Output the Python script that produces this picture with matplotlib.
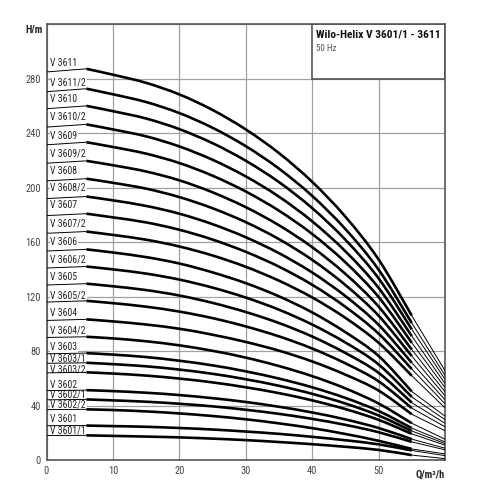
import matplotlib
matplotlib.use("Agg")
import matplotlib.pyplot as plt
import matplotlib.font_manager as fm
from matplotlib.font_manager import FontProperties
from matplotlib.patches import Rectangle, PathPatch
from matplotlib.path import Path

# Flow values (m3/h) at which heads were read
flow = [0, 6, 10, 15, 20, 25, 30, 35, 40, 45, 50, 55, 60]

names = ["V 3611", "V 3611/2", "V 3610", "V 3610/2", "V 3609", "V 3609/2",
         "V 3608", "V 3608/2", "V 3607", "V 3607/2", "V 3606", "V 3606/2",
         "V 3605", "V 3605/2", "V 3604", "V 3604/2", "V 3603", "V 3603/1",
         "V 3603/2", "V 3602", "V 3602/1", "V 3602/2", "V 3601", "V 3601/1"]

h_3611   = [285, 287.3, 283.0, 277.0, 268.5, 257.1, 242.8, 225.4, 204.3, 178.7, 147.3, 106.0, 65.6]
h_3611_2 = [270.5, 272.7, 268.6, 262.9, 254.8, 244.0, 230.5, 214.0, 194.0, 169.6, 139.8, 100.6, 62.2]
h_3610   = [258, 260.1, 256.2, 250.8, 243.0, 232.7, 219.8, 204.1, 185.0, 161.8, 133.4, 96.0, 59.3]
h_3610_2 = [244.5, 246.5, 242.8, 237.7, 230.3, 220.5, 208.3, 193.4, 175.3, 153.3, 126.4, 91.0, 56.2]
h_3609   = [231.5, 233.4, 229.9, 225.0, 218.1, 208.8, 197.2, 183.1, 166.0, 145.2, 119.7, 86.1, 53.2]
h_3609_2 = [218, 219.7, 216.5, 211.9, 205.4, 196.6, 185.7, 172.4, 156.3, 136.7, 112.7, 81.1, 50.1]
h_3608   = [205, 206.6, 203.6, 199.3, 193.1, 184.9, 174.7, 162.2, 147.0, 128.5, 106.0, 76.3, 47.2]
h_3608_2 = [192, 193.5, 190.7, 186.6, 180.9, 173.2, 163.6, 151.9, 137.7, 120.4, 99.3, 71.4, 44.2]
h_3607   = [179.5, 180.9, 178.2, 174.5, 169.1, 161.9, 152.9, 142.0, 128.7, 112.5, 92.8, 66.8, 41.3]
h_3607_2 = [166.5, 167.8, 165.3, 161.8, 156.8, 150.2, 141.9, 131.7, 119.4, 104.4, 86.1, 61.9, 38.3]
h_3606   = [153.5, 154.7, 152.4, 149.0, 144.3, 137.8, 129.9, 120.2, 108.4, 93.9, 76.4, 50.3, 32.2]
h_3606_2 = [141, 142.1, 140.0, 136.9, 132.5, 126.6, 119.3, 110.4, 99.5, 86.3, 70.2, 46.3, 29.6]
h_3605   = [128.5, 129.5, 127.6, 124.8, 120.8, 115.4, 108.7, 100.6, 90.7, 78.6, 64.0, 42.1, 27.0]
h_3605_2 = [116, 116.9, 115.2, 112.6, 109.0, 104.2, 98.1, 90.8, 81.9, 71.0, 57.8, 38.1, 24.4]
h_3604   = [102.5, 103.3, 101.8, 99.5, 96.4, 92.0, 86.7, 80.3, 72.4, 62.7, 51.0, 33.6, 21.5]
h_3604_2 = [90, 90.5, 89.3, 87.2, 84.2, 80.2, 75.2, 69.0, 61.6, 52.6, 41.5, 27.0, 15.3]
h_3603   = [78, 78.5, 77.4, 75.6, 72.9, 69.5, 65.1, 59.8, 53.4, 45.6, 36.0, 23.4, 13.3]
h_3603_1 = [71, 71.4, 70.4, 68.8, 66.4, 63.3, 59.3, 54.5, 48.6, 41.5, 32.7, 21.3, 12.1]
h_3603_2 = [64, 64.4, 63.5, 62.0, 59.8, 57.0, 53.4, 49.1, 43.8, 37.4, 29.5, 19.2, 10.9]
h_3602   = [51, 51.3, 50.6, 49.4, 47.7, 45.4, 42.6, 39.1, 34.9, 29.8, 23.5, 15.3, 8.7]
h_3602_1 = [44.2, 44.5, 43.8, 42.8, 41.3, 39.4, 36.9, 33.9, 30.2, 25.8, 20.4, 13.3, 7.5]
h_3602_2 = [37, 37.2, 36.7, 35.7, 34.2, 32.3, 29.9, 26.9, 23.4, 19.1, 14.1, 8.1, 4.5]
h_3601   = [25.2, 25.3, 24.9, 24.4, 23.5, 22.4, 20.9, 19.2, 17.0, 14.5, 11.5, 7.0, 3.2]
h_3601_1 = [18, 18.1, 17.7, 17.2, 16.6, 15.7, 14.6, 13.2, 11.6, 9.7, 7.4, 3.6, 1.0]

heads = [h_3611, h_3611_2, h_3610, h_3610_2, h_3609, h_3609_2, h_3608, h_3608_2,
         h_3607, h_3607_2, h_3606, h_3606_2, h_3605, h_3605_2, h_3604, h_3604_2,
         h_3603, h_3603_1, h_3603_2, h_3602, h_3602_1, h_3602_2, h_3601, h_3601_1]

# label vertical positions (layout)
label_y = [291.8, 277.5, 264.8, 252.0, 238.2, 225.4, 212.0, 200.0, 187.2, 173.6,
           160.4, 147.4, 134.6, 121.1, 108.1, 95.2, 83.0, 74.2, 66.3, 55.3,
           47.9, 40.5, 30.0, 21.9]

x_ticks = [0, 10, 20, 30, 40, 50, 60]
x_ticklabels = ['0', '10', '20', '30', '40', '50', '']
y_ticks = [0, 40, 80, 120, 160, 200, 240, 280, 320]
y_ticklabels = ['0', '40', '80', '120', '160', '200', '240', '280', '']

title = "Wilo-Helix V 3601/1 - 3611"
subtitle = "50 Hz"


# ---- font selection: prefer a condensed sans face ----
def pick_font(bold):
    prefs = ['Liberation Sans Narrow', 'Roboto Condensed', 'Open Sans Condensed',
             'Noto Sans', 'DejaVu Sans', 'Open Sans', 'Roboto', 'Liberation Sans']
    best = None
    for fam_rank, fam in enumerate(prefs):
        for f in fm.fontManager.ttflist:
            if f.name != fam or f.style != 'normal':
                continue
            w = f.weight if isinstance(f.weight, int) else (700 if 'bold' in str(f.weight) else 400)
            want_w = 700 if bold else 400
            st = str(f.stretch)
            cond = ('condensed' in st) or ('narrow' in f.name.lower()) or ('condensed' in f.name.lower())
            if 'extra' in st or 'ultra' in st:
                cond_score = 1
            elif cond:
                cond_score = 0
            else:
                cond_score = 2
            score = (cond_score, abs(w - want_w), fam_rank)
            if best is None or score < best[0]:
                best = (score, f.fname)
    return best[1] if best else None


f_reg = pick_font(False)
f_bold = pick_font(True)


def fp(size, bold=False):
    fname = f_bold if bold else f_reg
    if fname:
        p = FontProperties(fname=fname)
    else:
        p = FontProperties(family='DejaVu Sans', weight='bold' if bold else 'normal')
    p.set_size(size)
    return p


def smooth_path(xs, ys):
    pts = list(zip(xs, ys))
    n = len(pts)
    verts = [pts[0]]
    codes = [Path.MOVETO]
    for i in range(n - 1):
        p0 = pts[i - 1] if i > 0 else pts[i]
        p1 = pts[i]
        p2 = pts[i + 1]
        p3 = pts[i + 2] if i + 2 < n else pts[i + 1]
        c1 = (p1[0] + (p2[0] - p0[0]) / 6.0, p1[1] + (p2[1] - p0[1]) / 6.0)
        c2 = (p2[0] - (p3[0] - p1[0]) / 6.0, p2[1] - (p3[1] - p1[1]) / 6.0)
        verts += [c1, c2, p2]
        codes += [Path.CURVE4] * 3
    return Path(verts, codes)


fig = plt.figure(figsize=(5, 5), dpi=100)
ax = fig.add_axes([0.093, 0.08, 0.797, 0.8714])
ax.set_xlim(0, 60)
ax.set_ylim(0, 320)
ax.set_xticks(x_ticks)
ax.set_xticklabels(x_ticklabels)
ax.set_yticks(y_ticks)
ax.set_yticklabels(y_ticklabels)
ax.tick_params(length=0, labelcolor='#444444', pad=4)
for lbl in ax.get_xticklabels() + ax.get_yticklabels():
    lbl.set_fontproperties(fp(7.5))
ax.grid(True, color='#a0a0a0', lw=0.9)
ax.set_axisbelow(True)
for s in ax.spines.values():
    s.set_color('#555555')
    s.set_linewidth(1.2)

# title box
ax.add_patch(Rectangle((40, 280), 20, 40, facecolor='white', edgecolor='#555555',
                       lw=1.2, zorder=1.5))
ax.text(40.6, 312.5, title, fontproperties=fp(8.2, True), color='#111111',
        ha='left', va='center', zorder=2)
ax.text(40.6, 302, subtitle, fontproperties=fp(6.5), color='#555555',
        ha='left', va='center', zorder=2)

for name, h, ly in zip(names, heads, label_y):
    ax.plot(flow[:2], h[:2], color='black', lw=0.7, zorder=3, solid_capstyle='butt')
    ax.add_patch(PathPatch(smooth_path(flow[1:12], h[1:12]), fill=False,
                           edgecolor='black', lw=1.9, zorder=3.2, capstyle='butt'))
    ax.plot(flow[11:], h[11:], color='black', lw=0.7, zorder=3, solid_capstyle='butt')
    ax.text(0.6, ly, name, fontproperties=fp(7), color='#222222', ha='left',
            va='center', zorder=2,
            bbox=dict(facecolor='white', edgecolor='none', pad=0.4))

hp = fp(7.5, True)
hp.set_style('italic')
ax.text(-0.6, 316, "H/m", fontproperties=hp, ha='right', va='center',
        color='#222222', clip_on=False)
ax.text(60, -10.5, "Q/m³/h", fontproperties=hp, ha='right', va='center',
        color='#222222', clip_on=False)

fig.savefig("out.png", dpi=100)
